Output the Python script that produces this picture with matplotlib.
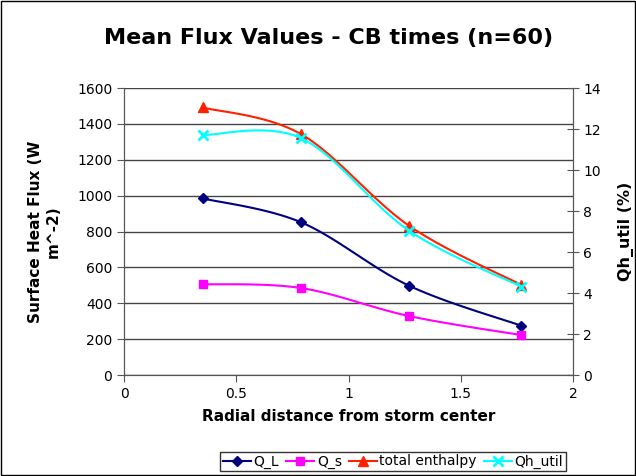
import numpy as np
import matplotlib
matplotlib.use("Agg")
import matplotlib.pyplot as plt
from matplotlib.patches import Rectangle

# radial distance of each bin and the mean fluxes
radius = [0.35, 0.79, 1.27, 1.77]
q_l = [985, 851, 498, 275]
q_s = [507, 485, 329, 223]
total_enthalpy = [1492, 1342, 832, 502]
qh_util = [11.71, 11.55, 7.04, 4.31]


def smooth(x, y, n=30):
    # excel style smoothed line: bezier segments with catmull-rom control points
    x = np.asarray(x, float)
    y = np.asarray(y, float)
    px = np.concatenate([[x[0]], x, [x[-1]]])
    py = np.concatenate([[y[0]], y, [y[-1]]])
    xs, ys = [], []
    t = np.linspace(0, 1, n)
    for i in range(1, len(px) - 2):
        p0 = np.array([px[i], py[i]])
        p3 = np.array([px[i + 1], py[i + 1]])
        p1 = p0 + (np.array([px[i + 1], py[i + 1]]) - np.array([px[i - 1], py[i - 1]])) / 6
        p2 = p3 - (np.array([px[i + 2], py[i + 2]]) - np.array([px[i], py[i]])) / 6
        b = ((1 - t) ** 3)[:, None] * p0 + (3 * (1 - t) ** 2 * t)[:, None] * p1 \
            + (3 * (1 - t) * t ** 2)[:, None] * p2 + (t ** 3)[:, None] * p3
        xs.extend(b[:, 0])
        ys.extend(b[:, 1])
    return xs, ys


plt.rcParams['font.family'] = 'DejaVu Sans'
fig = plt.figure(figsize=(6.36, 4.76), dpi=100)
ax = fig.add_axes([0.195, 0.212, 0.706, 0.603])
ax2 = ax.twinx()

ax.set_xlim(0, 2)
ax.set_ylim(0, 1600)
ax2.set_ylim(0, 14)
ax.set_yticks(range(0, 1601, 200))
ax2.set_yticks(range(0, 15, 2))
ax.set_xticks([0, 0.5, 1, 1.5, 2])
ax.set_xticklabels(['0', '0.5', '1', '1.5', '2'])
ax.yaxis.grid(True, color='#444444', linewidth=1)
ax.set_axisbelow(True)

for sp in ['top']:
    ax.spines[sp].set_visible(False)
    ax2.spines[sp].set_visible(False)
for a in (ax, ax2):
    for sp in a.spines.values():
        sp.set_color('#555555')
ax.tick_params(labelsize=10, length=5, color='#555555')
ax2.tick_params(labelsize=10, length=8, direction='inout', color='#555555')

series = [
    (ax, q_l, '#000080', 'D', 5, 'Q_L'),
    (ax, q_s, '#FF00FF', 's', 6, 'Q_s'),
    (ax, total_enthalpy, '#FF2000', '^', 7, 'total enthalpy'),
    (ax2, qh_util, '#00FFFF', 'x', 7, 'Qh_util'),
]
handles = []
for a, vals, col, mk, ms, lab in series:
    sx, sy = smooth(radius, vals)
    a.plot(sx, sy, color=col, linewidth=1.5)
    a.plot(radius, vals, linestyle='none', marker=mk, color=col, markersize=ms,
           markeredgewidth=2 if mk == 'x' else 1)
    h, = ax.plot([], [], color=col, marker=mk, markersize=ms, linewidth=1.5,
                 markeredgewidth=2 if mk == 'x' else 1, label=lab)
    handles.append(h)

ax.set_xlabel('Radial distance from storm center', fontsize=11, fontweight='bold', labelpad=6)
ax.set_ylabel('Surface Heat Flux (W\nm^-2)', fontsize=11, fontweight='bold', labelpad=12)
ax2.set_ylabel('Qh_util (%)', fontsize=11.5, fontweight='bold', labelpad=12)
fig.suptitle('Mean Flux Values - CB times (n=60)', fontsize=16, fontweight='bold',
             x=0.517, y=0.942)

leg = fig.legend(handles=handles, loc='lower center', bbox_to_anchor=(0.618, 0.004), ncol=4,
                 fontsize=10, frameon=True, fancybox=False, edgecolor='black',
                 handlelength=2.0, handletextpad=0.2, columnspacing=0.5,
                 borderpad=0.2, borderaxespad=0.2)
leg.get_frame().set_linewidth(1)

fig.patches.append(Rectangle((0.002, 0.002), 0.996, 0.996, transform=fig.transFigure,
                             fill=False, edgecolor='black', linewidth=1))

fig.savefig('out.png', dpi=100)
